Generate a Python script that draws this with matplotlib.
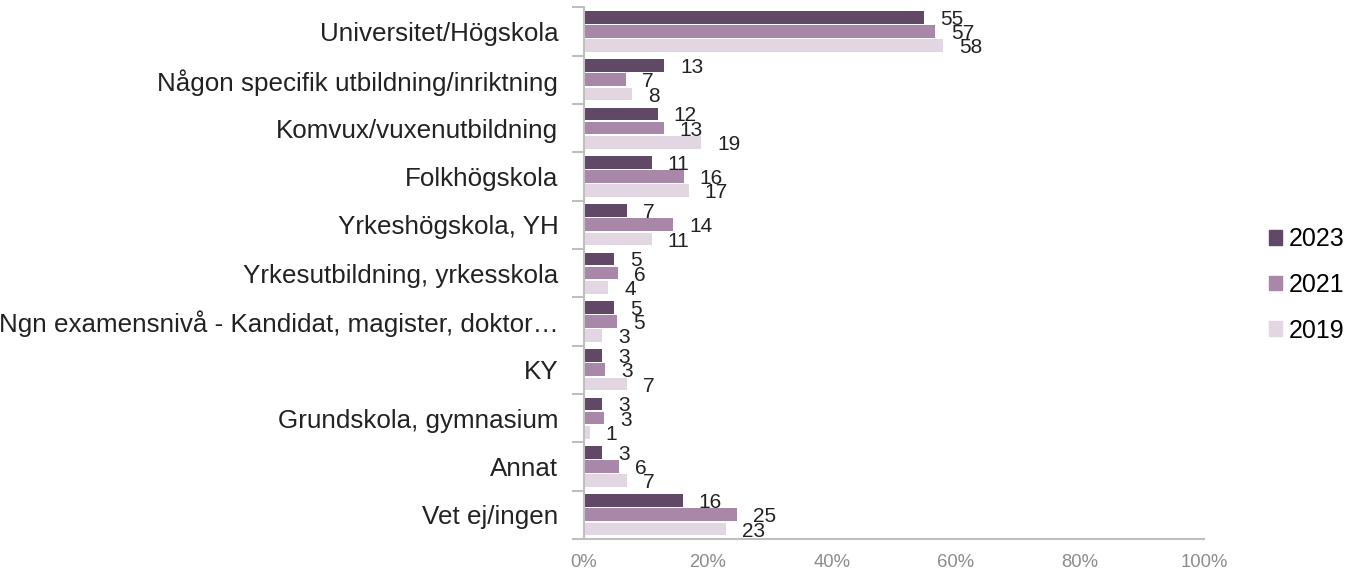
import matplotlib
matplotlib.use("Agg")
import matplotlib.pyplot as plt
import matplotlib.patches as mpatches
import numpy as np

plt.rcParams['font.family'] = ['Liberation Sans', 'DejaVu Sans']

categories = [
    "Universitet/Högskola",
    "Någon specifik utbildning/inriktning",
    "Komvux/vuxenutbildning",
    "Folkhögskola",
    "Yrkeshögskola, YH",
    "Yrkesutbildning, yrkesskola",
    "Ngn examensnivå - Kandidat, magister, doktor…",
    "KY",
    "Grundskola, gymnasium",
    "Annat",
    "Vet ej/ingen",
]
series_names = ["2023", "2021", "2019"]
v2023 = [54.8, 12.9, 11.9, 10.9, 6.9, 4.9, 4.9, 2.95, 2.95, 2.95, 15.9]
v2021 = [56.6, 6.7, 12.85, 16.1, 14.4, 5.5, 5.3, 3.4, 3.2, 5.7, 24.6]
v2019 = [57.9, 7.8, 18.9, 16.9, 10.9, 3.9, 2.95, 6.9, 0.9, 6.9, 22.9]
colors = ["#614866", "#a987a9", "#e3d6e3"]
x_ticks = [0, 20, 40, 60, 80, 100]

fig = plt.figure(figsize=(13.5, 5.7), dpi=100)
ax = fig.add_axes([584/1350, 1-539/570, (1204-584)/1350, (539-7.3)/570])

y = np.arange(len(categories))
offsets = [-0.295, 0.0, 0.295]
bh = 0.262
for vals, off, col in zip([v2023, v2021, v2019], offsets, colors):
    bars = ax.barh(y + off, vals, height=bh, color=col, edgecolor='none')
    for b, v in zip(bars, vals):
        ax.annotate(f"{round(v):d}", xy=(b.get_width(), b.get_y() + b.get_height()/2),
                    xytext=(16, -2), textcoords='offset pixels',
                    ha='left', va='center', fontsize=15, color='#222222')

ax.set_xlim(0, 100)
ax.set_ylim(len(categories) - 0.5, -0.5)

ax.set_yticks(np.arange(-0.5, len(categories), 1.0))
ax.set_yticklabels([])
ax.set_yticks(y, minor=True)
ax.set_yticklabels(categories, minor=True, fontsize=18.7, color='#222222')
ax.tick_params(axis='y', which='major', length=9, width=1.5, color='#bfbfbf', direction='out')
ax.tick_params(axis='y', which='minor', length=0, pad=18.5)

ax.set_xticks(x_ticks)
ax.set_xticklabels([f"{t}%" for t in x_ticks], fontsize=13.3, color='#8c8c8c')
ax.tick_params(axis='x', length=0, pad=11)

for s in ['top', 'right']:
    ax.spines[s].set_visible(False)
ax.spines['left'].set_color('#bfbfbf')
ax.spines['left'].set_linewidth(1.5)
ax.spines['bottom'].set_color('#bfbfbf')
ax.spines['bottom'].set_linewidth(1.5)

handles = [mpatches.Patch(color=c, label=n) for c, n in zip(colors, series_names)]
fig.legend(handles=handles, loc='center left', bbox_to_anchor=(1269/1350, 1-285/570),
           frameon=False, fontsize=18, handlelength=0.52, handleheight=0.52,
           handletextpad=0.25, labelspacing=0.86, borderaxespad=0, borderpad=0)

fig.savefig("out.png", dpi=100)
